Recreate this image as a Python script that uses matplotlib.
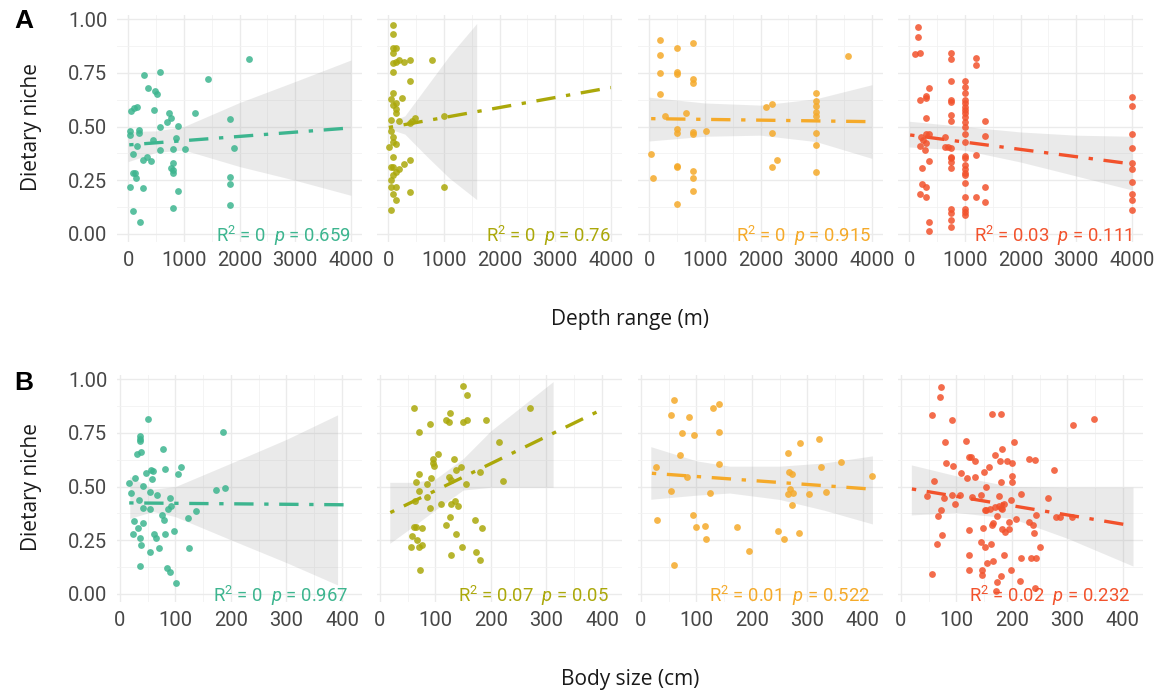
import numpy as np
import matplotlib.pyplot as plt
from matplotlib.ticker import MultipleLocator

plt.rcParams['font.family'] = ['Roboto', 'DejaVu Sans']
plt.rcParams['mathtext.fontset'] = 'custom'
plt.rcParams['mathtext.rm'] = 'Roboto'
plt.rcParams['mathtext.it'] = 'Roboto:italic'

colors = ['#3DB58F', '#ABA80A', '#F5AA2A', '#F2522C']

# ---- depth range (m) vs dietary niche ----
depth_g1 = [2178, 282, 570, 1434, 354, 474, 516, 60, 114, 156, 468, 726, 768, 1200, 1830, 690, 570, 900, 36, 30,
            192, 198, 438, 858, 156, 570, 798, 1014, 1908, 84, 270, 342, 414, 798, 768, 798, 798, 84, 120, 138,
            42, 270, 1830, 1830, 900, 1830, 798, 90, 216]
niche_depth_g1 = [0.815, 0.738, 0.756, 0.72, 0.679, 0.666, 0.654, 0.573, 0.585, 0.592, 0.579, 0.561, 0.542, 0.565,
                  0.534, 0.52, 0.497, 0.505, 0.478, 0.463, 0.484, 0.472, 0.439, 0.447, 0.411, 0.391, 0.398, 0.398,
                  0.402, 0.371, 0.346, 0.359, 0.342, 0.332, 0.307, 0.297, 0.283, 0.283, 0.283, 0.262, 0.217, 0.216,
                  0.264, 0.231, 0.199, 0.134, 0.123, 0.107, 0.056]

depth_g2 = [96, 96, 96, 138, 96, 96, 138, 198, 282, 401, 791, 96, 401, 96, 54, 252, 96, 138, 138, 138,
            54, 198, 401, 479, 437, 1000, 54, 96, 96, 138, 12, 96, 54, 96, 282, 198, 401, 96, 138, 54,
            54, 138, 401, 1000, 96, 138, 54]
niche_depth_g2 = [0.974, 0.929, 0.868, 0.868, 0.842, 0.795, 0.803, 0.811, 0.803, 0.811, 0.811, 0.756, 0.711, 0.655,
                  0.63, 0.632, 0.599, 0.612, 0.582, 0.562, 0.531, 0.528, 0.516, 0.542, 0.528, 0.551, 0.48, 0.453,
                  0.43, 0.418, 0.404, 0.36, 0.314, 0.314, 0.325, 0.304, 0.346, 0.275, 0.287, 0.252, 0.22, 0.22,
                  0.196, 0.22, 0.185, 0.158, 0.113]

depth_g3 = [191, 191, 191, 191, 501, 501, 501, 794, 794, 794, 3570, 293, 663, 501, 501, 794, 794, 1021, 2090, 2209,
            2209, 3000, 3000, 3000, 3000, 3000, 3000, 3000, 3000, 36, 66, 501, 501, 794, 794, 794, 501, 2293, 2209]
niche_depth_g3 = [0.902, 0.834, 0.75, 0.651, 0.868, 0.755, 0.744, 0.887, 0.722, 0.703, 0.828, 0.548, 0.561, 0.489,
                  0.469, 0.477, 0.464, 0.481, 0.593, 0.606, 0.469, 0.658, 0.62, 0.595, 0.57, 0.55, 0.469, 0.415,
                  0.287, 0.371, 0.259, 0.318, 0.314, 0.295, 0.259, 0.2, 0.138, 0.345, 0.312]

depth_g4 = [154, 166, 113, 202, 754, 754, 1206, 1206, 754, 356, 303, 303, 202, 754, 754, 303, 754, 754, 1354, 1354,
            1206, 1354, 1354, 1206, 214, 303, 356, 255, 303, 202, 291, 653, 653, 701, 754, 754, 754, 754, 754, 356,
            232, 232, 303, 202, 303, 356, 356, 754, 754, 754, 754,
            1000, 1000, 1000, 1000, 1000, 1000, 1000, 1000, 1000, 1000, 1000, 1000,
            1000, 1000, 1000, 1000, 1000, 1000, 1000, 1000, 1000, 1000, 1000, 1000,
            4000, 4000, 4000, 4000, 4000, 4000, 4000, 4000, 4000, 4000]
niche_depth_g4 = [0.966, 0.919, 0.837, 0.842, 0.845, 0.815, 0.82, 0.789, 0.711, 0.679, 0.643, 0.634, 0.624, 0.624,
                  0.616, 0.542, 0.554, 0.528, 0.528, 0.458, 0.368, 0.22, 0.148, 0.171, 0.453, 0.464, 0.464, 0.438,
                  0.425, 0.41, 0.391, 0.45, 0.407, 0.404, 0.399, 0.36, 0.352, 0.337, 0.309, 0.34, 0.306, 0.233,
                  0.22, 0.186, 0.171, 0.057, 0.014, 0.115, 0.096, 0.065, 0.031,
                  0.711, 0.686, 0.655, 0.624, 0.609, 0.593, 0.578, 0.562, 0.547, 0.523, 0.5, 0.466,
                  0.43, 0.363, 0.352, 0.321, 0.301, 0.283, 0.275, 0.236, 0.174, 0.115, 0.101, 0.089,
                  0.64, 0.596, 0.464, 0.399, 0.332, 0.301, 0.244, 0.185, 0.158, 0.112]

# ---- body size (cm) vs dietary niche ----
size_g1 = [50.1, 186, 36.4, 36.4, 36.4, 37.6, 31, 78.2, 28, 46.6, 56, 59, 80.6, 111, 105, 57.3, 17.3, 42.4, 20.9, 54.3,
           66.3, 174, 189, 34.6, 90, 54.9, 42.4, 87, 92.5, 76.4, 79.4, 137, 122, 25.7, 41.8, 23.3, 32.2, 37, 62, 65,
           81.8, 98, 38.8, 54.3, 70.4, 124, 37, 85.4, 90, 101]
niche_size_g1 = [0.814, 0.755, 0.736, 0.72, 0.713, 0.663, 0.651, 0.677, 0.54, 0.564, 0.578, 0.571, 0.581, 0.589,
                 0.557, 0.534, 0.519, 0.503, 0.47, 0.475, 0.461, 0.483, 0.495, 0.438, 0.446, 0.394, 0.401, 0.394,
                 0.41, 0.368, 0.345, 0.388, 0.356, 0.34, 0.331, 0.28, 0.306, 0.262, 0.28, 0.259, 0.281, 0.293,
                 0.23, 0.197, 0.213, 0.216, 0.132, 0.12, 0.104, 0.053]

size_g2 = [149, 157, 62, 270, 127, 119, 125, 90, 149, 157, 191, 70, 214, 104, 95, 95, 98, 134, 70, 147,
           138, 181, 92, 125, 128, 65, 85, 156, 221, 70, 85, 63, 110, 128, 136, 140, 90, 127, 172, 119,
           61, 66, 76, 184, 58, 138, 67, 56, 71, 76, 148, 128, 174, 181, 73]
niche_size_g2 = [0.97, 0.927, 0.865, 0.865, 0.842, 0.811, 0.8, 0.793, 0.801, 0.809, 0.809, 0.755, 0.71, 0.654,
                 0.629, 0.609, 0.596, 0.63, 0.557, 0.589, 0.576, 0.568, 0.539, 0.547, 0.531, 0.52, 0.514, 0.512,
                 0.525, 0.478, 0.453, 0.433, 0.421, 0.421, 0.432, 0.41, 0.401, 0.36, 0.345, 0.321, 0.314, 0.314,
                 0.307, 0.307, 0.272, 0.278, 0.252, 0.22, 0.22, 0.227, 0.22, 0.183, 0.194, 0.157, 0.112]

size_g3 = [59, 54, 87, 130, 141, 75, 96, 140, 286, 321, 70, 265, 27, 140, 325, 360, 266, 272, 84, 417,
           55, 269, 125, 265, 274, 302, 334, 273, 94, 30, 99, 116, 173, 247, 284, 118, 257, 195, 60]
niche_size_g3 = [0.901, 0.832, 0.824, 0.865, 0.884, 0.75, 0.741, 0.752, 0.703, 0.72, 0.649, 0.657, 0.592, 0.604,
                 0.59, 0.615, 0.568, 0.557, 0.547, 0.55, 0.48, 0.488, 0.469, 0.466, 0.469, 0.464, 0.474, 0.413,
                 0.37, 0.343, 0.312, 0.318, 0.311, 0.293, 0.286, 0.258, 0.256, 0.199, 0.137]

size_g4 = [71.6, 70.4, 55.5, 92.5, 164, 181, 310, 347, 80, 117, 204, 183, 170, 123, 126, 134, 178, 191, 201, 230,
           242, 82, 94, 108, 158, 150, 276, 120, 133, 201, 201, 181, 60, 153, 48, 78, 93, 97, 106, 128,
           144, 176, 199, 217, 265, 151, 154, 160, 170, 176, 183, 185, 181, 72, 67, 244, 279, 286, 308, 173,
           208, 75, 66, 122, 148, 164, 166, 195, 182, 188, 194, 231, 238, 239, 144, 151, 162, 251, 123, 186,
           217, 234, 244, 155, 166, 123, 147, 147, 199, 56, 181, 173, 214, 242, 172]
niche_size_g4 = [0.963, 0.916, 0.835, 0.812, 0.84, 0.84, 0.786, 0.817, 0.708, 0.711, 0.708, 0.675, 0.648, 0.638,
                 0.638, 0.621, 0.618, 0.621, 0.612, 0.63, 0.626, 0.609, 0.595, 0.565, 0.589, 0.567, 0.579, 0.542,
                 0.545, 0.55, 0.523, 0.523, 0.526, 0.5, 0.455, 0.447, 0.46, 0.421, 0.461, 0.453, 0.463, 0.455,
                 0.436, 0.464, 0.447, 0.391, 0.393, 0.398, 0.407, 0.408, 0.398, 0.418, 0.399, 0.391, 0.365, 0.366,
                 0.357, 0.357, 0.357, 0.363, 0.349, 0.273, 0.233, 0.298, 0.309, 0.321, 0.331, 0.335, 0.303, 0.287,
                 0.303, 0.334, 0.32, 0.283, 0.244, 0.22, 0.233, 0.217, 0.183, 0.183, 0.166, 0.169, 0.169, 0.146,
                 0.155, 0.11, 0.11, 0.09, 0.11, 0.092, 0.082, 0.054, 0.061, 0.03, 0.012]

# fitted lines (end points) and confidence bands
depth_fit_x = [[20, 4000], [12, 4000], [36, 4000], [18, 4000]]
depth_fit_y = [[0.415, 0.494], [0.496, 0.682], [0.537, 0.523], [0.461, 0.326]]
depth_band_x = [[0, 500, 1000, 2000, 3000, 4000], [12, 300, 700, 1100, 1590],
                [0, 1000, 2000, 3000, 4000], [0, 1000, 2000, 3000, 4000]]
depth_band_lo = [[0.337, 0.38, 0.391, 0.314, 0.25, 0.18], [0.49, 0.465, 0.36, 0.26, 0.16],
                 [0.433, 0.455, 0.46, 0.43, 0.352], [0.405, 0.39, 0.335, 0.27, 0.205]]
depth_band_hi = [[0.477, 0.48, 0.50, 0.612, 0.71, 0.81], [0.52, 0.55, 0.69, 0.83, 0.98],
                 [0.637, 0.61, 0.60, 0.63, 0.695], [0.525, 0.50, 0.475, 0.46, 0.455]]
depth_r2 = ['0', '0', '0', '0.03']
depth_p = ['0.659', '0.76', '0.915', '0.111']

size_fit_x = [[17, 418], [19, 407], [20, 417], [20, 418]]
size_fit_y = [[0.424, 0.415], [0.379, 0.868], [0.562, 0.488], [0.489, 0.317]]
size_band_x = [[18, 60, 100, 200, 300, 392], [18, 60, 100, 150, 200, 250, 312],
               [18, 100, 160, 250, 330, 417], [19, 100, 200, 300, 418]]
size_band_lo = [[0.352, 0.384, 0.36, 0.252, 0.146, 0.042], [0.236, 0.314, 0.391, 0.484, 0.497, 0.497, 0.497],
                [0.441, 0.46, 0.47, 0.44, 0.39, 0.326], [0.368, 0.379, 0.352, 0.259, 0.13]]
size_band_hi = [[0.547, 0.488, 0.50, 0.609, 0.72, 0.834], [0.52, 0.52, 0.535, 0.63, 0.76, 0.862, 0.989],
                [0.686, 0.62, 0.595, 0.595, 0.61, 0.643], [0.601, 0.55, 0.50, 0.497, 0.497]]
size_r2 = ['0', '0.07', '0.01', '0.02']
size_p = ['0.967', '0.05', '0.522', '0.232']

depth_x = [depth_g1, depth_g2, depth_g3, depth_g4]
depth_y = [niche_depth_g1, niche_depth_g2, niche_depth_g3, niche_depth_g4]
size_x = [size_g1, size_g2, size_g3, size_g4]
size_y = [niche_size_g1, niche_size_g2, niche_size_g3, niche_size_g4]

W, H = 1165, 694
fig = plt.figure(figsize=(W / 100, H / 100), dpi=100)
lefts = [117, 377, 638, 898]
pw = 245
ylim = (-0.036, 1.022)
ph = 227.2


def panel(left, bottom, xlim, major, minor, first):
    ax = fig.add_axes([left / W, (H - bottom) / H, pw / W, ph / H])
    ax.set_xlim(*xlim)
    ax.set_ylim(*ylim)
    for s in ax.spines.values():
        s.set_visible(False)
    ax.xaxis.set_major_locator(MultipleLocator(major))
    ax.xaxis.set_minor_locator(MultipleLocator(minor))
    ax.yaxis.set_major_locator(MultipleLocator(0.25))
    ax.yaxis.set_minor_locator(MultipleLocator(0.125))
    ax.grid(which='major', color='#EBEBEB', lw=1.0)
    ax.grid(which='minor', color='#F2F2F2', lw=0.6)
    ax.set_axisbelow(True)
    ax.tick_params(which='both', length=0, labelsize=14.5, labelcolor='#474747')
    ax.tick_params(axis='x', pad=7)
    ax.tick_params(axis='y', pad=7)
    if first:
        ax.set_yticks([0, 0.25, 0.5, 0.75, 1.0])
        ax.set_yticklabels(['0.00', '0.25', '0.50', '0.75', '1.00'])
    else:
        ax.set_yticklabels([])
    return ax


def draw_row(bottom, xs, ys, fx, fy, bx, blo, bhi, r2, pv, xlim, major, minor, tx):
    for i in range(4):
        ax = panel(lefts[i], bottom, xlim, major, minor, i == 0)
        ax.fill_between(bx[i], blo[i], bhi[i], color='#999999', alpha=0.2, lw=0, zorder=1)
        ax.scatter(xs[i], ys[i], s=24, color=colors[i], alpha=0.85, lw=0, zorder=2)
        ax.plot(fx[i], fy[i], color=colors[i], lw=2.4, ls=(0, (1.3, 3.2, 5.8, 3.2)),
                dash_capstyle='butt', zorder=3)
        ax.text(tx, -0.039, 'R$^2$ = %s  $p$ = %s' % (r2[i], pv[i]), color=colors[i],
                ha='right', va='baseline', fontsize=13.3, clip_on=False, zorder=4)


draw_row(241.7, depth_x, depth_y, depth_fit_x, depth_fit_y, depth_band_x, depth_band_lo, depth_band_hi,
         depth_r2, depth_p, (-200, 4200), 1000, 500, 4000)
draw_row(601.7, size_x, size_y, size_fit_x, size_fit_y, size_band_x, size_band_lo, size_band_hi,
         size_r2, size_p, (-5, 436), 100, 50, 412)

title_font = ['Open Sans', 'DejaVu Sans']
fig.text(630 / W, 1 - 320 / H, 'Depth range (m)', ha='center', va='center', family=title_font,
         fontsize=15, color='#1A1A1A')
fig.text(630 / W, 1 - 680 / H, 'Body size (cm)', ha='center', va='center', family=title_font,
         fontsize=15, color='#1A1A1A')
for yc in (127, 487):
    fig.text(32 / W, 1 - yc / H, 'Dietary niche', ha='center', va='center', rotation=90,
             family=title_font, fontsize=15, color='#1A1A1A')
fig.text(24 / W, 1 - 21 / H, 'A', ha='center', va='center', fontweight='bold',
         family=['Liberation Sans', 'DejaVu Sans'], fontsize=19)
fig.text(24 / W, 1 - 383 / H, 'B', ha='center', va='center', fontweight='bold',
         family=['Liberation Sans', 'DejaVu Sans'], fontsize=19)

fig.savefig('out.png', dpi=100, facecolor='white')
